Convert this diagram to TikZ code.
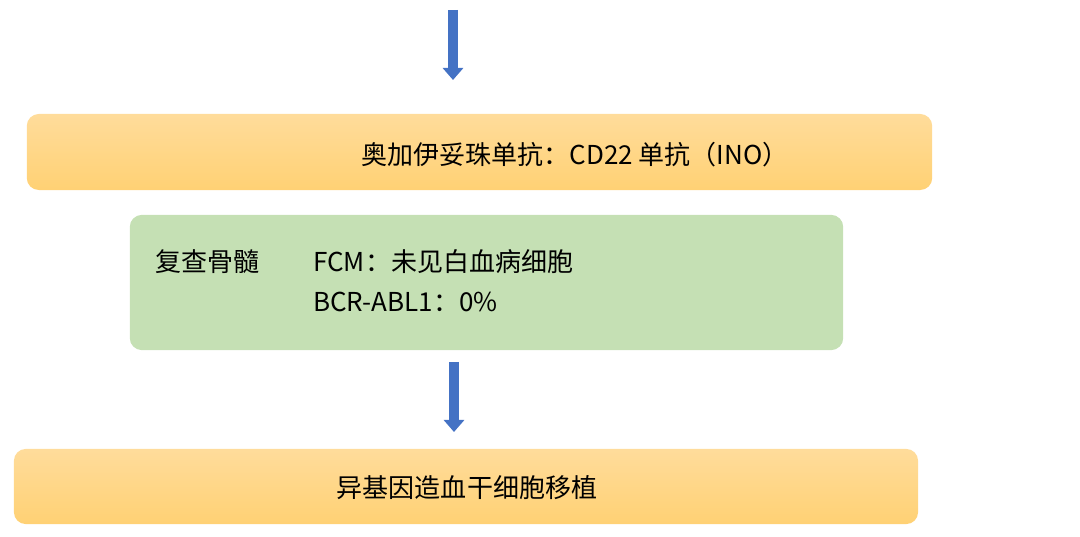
\documentclass[tikz,border=0pt]{standalone}
\usepackage{fontspec}
\newfontfamily\cjk{Noto Sans CJK SC}
\usetikzlibrary{arrows.meta}
\definecolor{boxtop}{HTML}{FFDC9B}
\definecolor{boxbot}{HTML}{FFD174}
\definecolor{boxgreen}{HTML}{C5E0B4}
\definecolor{arrblue}{HTML}{4472C4}

\begin{document}
\begin{tikzpicture}[x=0.025cm,y=-0.025cm,font=\cjk\fontsize{18.5}{26}\selectfont,
  ybox/.style={rounded corners=0.3cm,top color=boxtop,bottom color=boxbot,draw=none,inner sep=0pt},
  gbox/.style={rounded corners=0.3cm,fill=boxgreen,inner sep=0pt},
  txt/.style={inner sep=0pt,align=left},
  blk/.style={draw=arrblue,line width=0.25cm,-{Triangle[width=0.5cm,length=0.3cm]}}]
\useasboundingbox (0,0) rectangle (1080,537);
\node[ybox,minimum width=22.63cm,minimum height=1.9cm] (ino) at (479.5,152) {};
\node[gbox,minimum width=17.83cm,minimum height=3.38cm] (bm) at (486.5,282.5) {};
\node[ybox,minimum width=22.6cm,minimum height=1.88cm] (hsct) at (466,486.5) {};
\node[txt] (inotxt) at (575,155) {奥加伊妥珠单抗：CD22 单抗（INO）};
\node[txt,anchor=west] (bmtxt) at (155,262) {复查骨髓};
\node[txt,anchor=west] (fcm) at (313,262) {FCM：未见白血病细胞};
\node[txt,anchor=west] (bcr) at (313,302) {BCR-ABL1：0\%};
\node[txt] (hscttxt) at (467,488) {异基因造血干细胞移植};
\coordinate (a1s) at (453,10); \coordinate (a1e) at (453,80);
\coordinate (a2s) at (454,362); \coordinate (a2e) at (454,432);
\draw[blk] (a1s)--(a1e);
\draw[blk] (a2s)--(a2e);
\end{tikzpicture}
\end{document}
